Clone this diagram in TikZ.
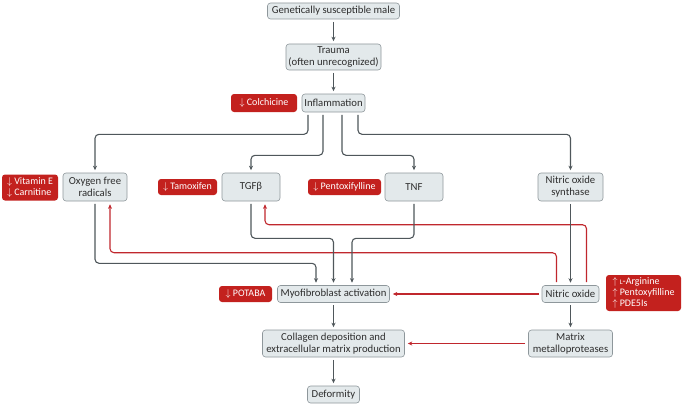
\documentclass[tikz,border=0pt]{standalone}
\usepackage{fontspec}
\setmainfont{Carlito}
\usetikzlibrary{arrows.meta}
\definecolor{boxfill}{HTML}{E3E9EB}
\definecolor{boxline}{HTML}{8E979B}
\definecolor{txtgray}{HTML}{2E2E2E}
\definecolor{linegray}{HTML}{4F575B}
\definecolor{drugred}{HTML}{C3211E}
\definecolor{linered}{HTML}{C0272D}
\begin{document}
\begin{tikzpicture}[x=1pt,y=-1pt,
	box/.style={draw=boxline, fill=boxfill, line width=0.6pt, rounded corners=3pt, align=center, text=txtgray, font=\fontsize{10.7}{12}\selectfont, inner sep=0pt},
	drug/.style={fill=drugred, rounded corners=3pt, align=left, text=white, font=\fontsize{10}{11}\selectfont, inner sep=0pt},
	flow/.style={draw=linegray, line width=1.1pt, rounded corners=4pt, -{Stealth[length=4.5pt,width=4pt]}, shorten <=2.5pt, shorten >=2.5pt},
	back/.style={draw=linered, line width=1.1pt, rounded corners=4pt, -{Stealth[length=4.5pt,width=4pt]}, shorten <=3pt, shorten >=3pt}]
	\useasboundingbox (0,0) rectangle (685,404);
	
	\node[box, minimum width=132pt, minimum height=16pt] (gen) at (333.5,11) {Genetically susceptible male};
	\node[box, minimum width=95pt, minimum height=26pt] (trauma) at (333.5,57) {Trauma\\(often unrecognized)};
	\node[box, minimum width=63pt, minimum height=18pt] (infl) at (333.5,103) {Inflammation};
	\node[drug, minimum width=66pt, minimum height=18pt] (colch) at (264,103) {$\downarrow$ Colchicine};
	
	\node[box, minimum width=64pt, minimum height=28pt] (ofr) at (95,187) {Oxygen free\\radicals};
	\node[drug, minimum width=56pt, minimum height=26pt] (vite) at (30,187.5) {$\downarrow$ Vitamin E\\$\downarrow$ Carnitine};
	\node[box, minimum width=58pt, minimum height=28pt] (tgf) at (251,187) {TGFβ};
	\node[drug, minimum width=59pt, minimum height=16pt] (tamox) at (187.5,187) {$\downarrow$ Tamoxifen};
	\node[box, minimum width=58pt, minimum height=28pt] (tnf) at (414,187) {TNF};
	\node[drug, minimum width=73pt, minimum height=16pt] (pentox) at (344.5,187) {$\downarrow$ Pentoxifylline};
	\node[box, minimum width=65pt, minimum height=28pt] (nos) at (570.5,187) {Nitric oxide\\synthase};
	
	\node[box, minimum width=112pt, minimum height=17pt] (myo) at (333.5,294) {Myofibroblast activation};
	\node[drug, minimum width=53pt, minimum height=16pt] (potaba) at (245.5,294) {$\downarrow$ POTABA};
	\node[box, minimum width=57pt, minimum height=17pt] (no) at (570.5,294) {Nitric oxide};
	\node[drug, minimum width=75pt, minimum height=36pt] (larg) at (643.5,293) {$\uparrow$ {\scriptsize L}-Arginine\\$\uparrow$ Pentoxyfilline\\$\uparrow$ PDE5Is};
	\node[box, minimum width=142pt, minimum height=27pt] (coll) at (333.5,343.5) {Collagen deposition and\\extracellular matrix production};
	\node[box, minimum width=84pt, minimum height=27pt] (mmp) at (570.5,343.5) {Matrix\\metalloproteases};
	\node[box, minimum width=52pt, minimum height=17pt] (def) at (333.5,394.5) {Deformity};
	
	\draw[back] ([xshift=16pt]no.north) -- ++(0,-60.5) -| ([xshift=14pt]tgf.south);
	\draw[back] ([xshift=-14pt]no.north) -- ++(0,-32.5) -| ([xshift=15pt]ofr.south);
	\draw[back] (no) -- (myo);
	\draw[back] (mmp) -- (coll);
	
	\draw[flow] (gen) -- (trauma);
	\draw[flow] (trauma) -- (infl);
	\draw[flow] ([xshift=-25.5pt]infl.south) -- ++(0,22) -| (ofr.north);
	\draw[flow] ([xshift=-10.5pt]infl.south) -- ++(0,43) -| (tgf.north);
	\draw[flow] ([xshift=8.5pt]infl.south) -- ++(0,43) -| (tnf.north);
	\draw[flow] ([xshift=24.5pt]infl.south) -- ++(0,22) -| (nos.north);
	\draw[flow] (ofr.south) -- ++(0,62) -| ([xshift=-17.5pt]myo.north);
	\draw[flow] (tgf.south) -- ++(0,37) -| (myo.north);
	\draw[flow] (tnf.south) -- ++(0,37) -| ([xshift=18.5pt]myo.north);
	\draw[flow] (nos) -- (no);
	\draw[flow] (myo) -- (coll);
	\draw[flow] (no) -- (mmp);
	\draw[flow] (coll) -- (def);
\end{tikzpicture}
\end{document}
